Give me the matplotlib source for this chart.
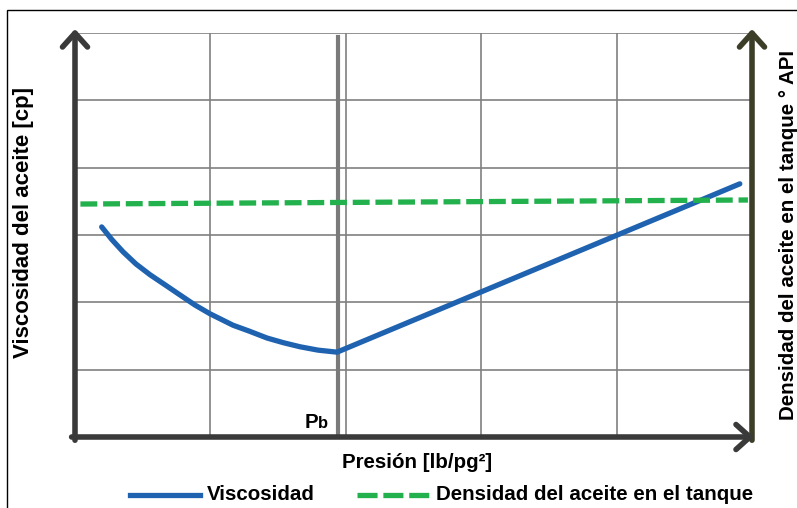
import numpy as np
import matplotlib.pyplot as plt
from matplotlib.lines import Line2D
from matplotlib.patches import Rectangle

plt.rcParams['font.family'] = ['Liberation Sans', 'DejaVu Sans']

# viscosity vs pressure (curved below Pb, straight above)
visc_x = [0.197, 0.273, 0.355, 0.45, 0.554, 0.665, 0.775, 0.886, 0.997,
          1.167, 1.29, 1.418, 1.54, 1.662, 1.795, 1.935, 4.91]
visc_y = [3.12, 2.93, 2.75, 2.57, 2.41, 2.26, 2.11, 1.96, 1.83,
          1.66, 1.57, 1.47, 1.40, 1.34, 1.29, 1.26, 3.76]

# stock tank oil density (API), almost flat
dens_x = [0.04, 4.97]
dens_y = [3.46, 3.52]

pb = 1.94
x_grid = [0, 1, 2, 3, 4, 5]
y_grid = [0, 1, 2, 3, 4, 5, 6]

W, H = 797, 508
fig = plt.figure(figsize=(W / 100, H / 100), dpi=100)
fig.patch.set_facecolor('white')

ax = fig.add_axes([75 / W, 1 - 437 / H, (752 - 75) / W, (437 - 33) / H])
ax.set_xlim(0, 5)
ax.set_ylim(0, 6)
ax.set_xticks(x_grid)
ax.set_yticks(y_grid)
ax.grid(color='#808080', lw=1.2)
ax.tick_params(length=0, labelleft=False, labelbottom=False)
for s in ax.spines.values():
    s.set_visible(False)
ax.set_axisbelow(True)

# bubble point line
ax.plot([pb, pb], [0, 5.94], color='#7a7a7a', lw=3, zorder=3)

ax.plot(visc_x, visc_y, color='#1f63b0', lw=3.8, solid_capstyle='round',
        solid_joinstyle='round', zorder=4)
ax.plot(dens_x, dens_y, color='#22b14c', lw=3.8, ls=(0, (3.2, 1.1)), zorder=4)

# axis arrows
arrow = dict(arrowstyle='->,head_length=0.5,head_width=0.45', lw=4,
             shrinkA=0, shrinkB=0, mutation_scale=20)
ax.annotate('', xy=(0, 1.01), xytext=(0, -0.008), xycoords='axes fraction',
            arrowprops=dict(arrow, color='#3a3a3a'), annotation_clip=False)
ax.annotate('', xy=(1.0, 1.01), xytext=(1.0, -0.008), xycoords='axes fraction',
            arrowprops=dict(arrow, color='#3c3e28'), annotation_clip=False)
ax.annotate('', xy=(1.003, 0), xytext=(-0.005, 0), xycoords='axes fraction',
            arrowprops=dict(arrow, color='#3a3a3a'), annotation_clip=False)

# outer frame
fig.add_artist(Rectangle((7 / W, -0.1), 1.1, (1 - 10 / H) + 0.1, fill=False,
                         ec='black', lw=1, transform=fig.transFigure))

fs = 14.8
fig.text(24 / W, 1 - 222 / H, 'Viscosidad del aceite [cp]', rotation=90,
         ha='center', va='center', fontsize=16, weight='bold')
fig.text(788 / W, 1 - 235 / H, 'Densidad del aceite en el tanque ° API', rotation=90,
         ha='center', va='center', fontsize=fs, weight='bold')
fig.text(417 / W, 1 - 462 / H, 'Presión [lb/pg²]', ha='center', va='center',
         fontsize=fs, weight='bold')
fig.text(318 / W, 1 - 428 / H, 'P', ha='right', va='baseline', fontsize=fs, weight='bold')
fig.text(318 / W, 1 - 428 / H, 'b', ha='left', va='baseline', fontsize=fs - 3, weight='bold')

# legend
fig.add_artist(Line2D([130 / W, 200 / W], [1 - 495 / H] * 2, color='#1f63b0', lw=3.8,
                      transform=fig.transFigure))
fig.text(207 / W, 1 - 495 / H, 'Viscosidad', ha='left', va='center', fontsize=fs, weight='bold')
fig.add_artist(Line2D([357 / W, 432 / W], [1 - 495 / H] * 2, color='#22b14c', lw=3.8,
                      ls=(0, (3.8, 1.1)), transform=fig.transFigure))
fig.text(436 / W, 1 - 495 / H, 'Densidad del aceite en el tanque', ha='left', va='center',
         fontsize=fs, weight='bold')

fig.savefig('out.png', dpi=100, facecolor='white')
